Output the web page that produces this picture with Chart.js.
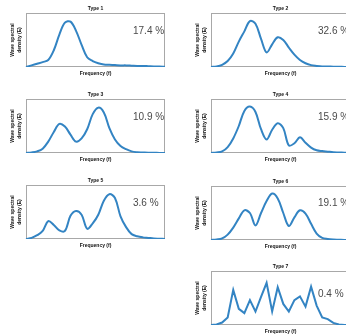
<!DOCTYPE html>
<html><head><meta charset="utf-8">
<script src="https://cdn.jsdelivr.net/npm/chart.js@4/dist/chart.umd.min.js"></script>
<style>
html,body{margin:0;padding:0;background:#fff;overflow:hidden;width:346px;height:336px;position:relative}
.p{position:absolute;width:175px;height:85px}
canvas{display:block}
</style></head><body>
<div class="p" style="left:0;top:0"><canvas id="c1" width="175" height="85"></canvas></div>
<div class="p" style="left:185px;top:0"><canvas id="c2" width="175" height="85"></canvas></div>
<div class="p" style="left:0;top:86px"><canvas id="c3" width="175" height="85"></canvas></div>
<div class="p" style="left:185px;top:86px"><canvas id="c4" width="175" height="85"></canvas></div>
<div class="p" style="left:0;top:172px"><canvas id="c5" width="175" height="85"></canvas></div>
<div class="p" style="left:185px;top:173px"><canvas id="c6" width="175" height="85"></canvas></div>
<div class="p" style="left:185px;top:258px"><canvas id="c7" width="175" height="85"></canvas></div>
<script>
const frequency = ['0','1','2','3','4','5','6','7','8','9','10','11','12','13','14','15','16','17','18','19','20','21','22','23','24','25'];
const typeNames = ['Type 1','Type 2','Type 3','Type 4','Type 5','Type 6','Type 7'];
const shares = [17.4, 32.6, 10.9, 15.9, 3.6, 19.1, 0.4];
const type1 = [0,0.03,0.06,0.09,0.13,0.31,0.60,0.82,0.84,0.67,0.41,0.18,0.11,0.07,0.045,0.04,0.035,0.03,0.03,0.025,0.02,0.02,0.015,0.01,0.01,0.005];
const type2 = [0,0.01,0.04,0.11,0.25,0.47,0.66,0.85,0.80,0.52,0.27,0.42,0.55,0.50,0.36,0.23,0.13,0.07,0.035,0.02,0.01,0.01,0.005,0.005,0,0];
const type3 = [0,0.01,0.03,0.08,0.21,0.39,0.54,0.49,0.34,0.21,0.27,0.44,0.72,0.84,0.75,0.46,0.25,0.13,0.07,0.03,0.015,0.01,0.005,0.005,0,0];
const type4 = [0,0.01,0.03,0.11,0.27,0.50,0.78,0.86,0.76,0.44,0.25,0.43,0.55,0.46,0.14,0.18,0.29,0.19,0.10,0.05,0.035,0.025,0.015,0.01,0.005,0];
const type5 = [0,0.02,0.07,0.15,0.33,0.26,0.16,0.15,0.43,0.52,0.45,0.19,0.29,0.45,0.71,0.83,0.76,0.42,0.22,0.09,0.05,0.03,0.02,0.01,0.005,0];
const type6 = [0,0.01,0.03,0.10,0.23,0.40,0.55,0.50,0.27,0.50,0.72,0.86,0.77,0.50,0.26,0.42,0.55,0.49,0.30,0.12,0.04,0.02,0.01,0.005,0,0];
const type7 = [0,0.01,0.045,0.14,0.65,0.30,0.22,0.46,0.25,0.52,0.78,0.25,0.70,0.39,0.25,0.46,0.53,0.34,0.71,0.36,0.14,0.11,0.04,0.01,0,0];

const series = [type1,type2,type3,type4,type5,type6,type7];
const panels = [
  {id:'c1', tension:0.35, labelY:18},
  {id:'c2', tension:0.35, labelY:18},
  {id:'c3', tension:0.35, labelY:18},
  {id:'c4', tension:0.35, labelY:18},
  {id:'c5', tension:0.35, labelY:18},
  {id:'c6', tension:0.35, labelY:17},
  {id:'c7', tension:0, labelY:23}
];
const FONT = "'Liberation Sans', Arial, sans-serif";

const boxPlugin = {
  id: 'boxPlugin',
  beforeDatasetsDraw(chart) {
    const a = chart.chartArea, ctx = chart.ctx;
    ctx.save();
    ctx.strokeStyle = '#a8a8a8';
    ctx.lineWidth = 1;
    ctx.strokeRect(Math.round(a.left)+0.5, Math.round(a.top)+0.5, Math.round(a.right-a.left)-1, Math.round(a.bottom-a.top)-1);
    ctx.restore();
  },
  afterDraw(chart, args, opts) {
    const a = chart.chartArea, ctx = chart.ctx;
    ctx.save();
    ctx.fillStyle = '#4a4a4a';
    ctx.font = '10px ' + FONT;
    ctx.textBaseline = 'middle';
    ctx.textAlign = 'left';
    ctx.fillText(opts.text, a.left + 107, a.top + opts.dy);
    ctx.restore();
  }
};

panels.forEach((p, k) => {
  new Chart(document.getElementById(p.id), {
    type: 'line',
    data: {
      labels: frequency,
      datasets: [{
        data: series[k],
        borderColor: '#3384c3',
        borderWidth: 2,
        pointRadius: 0,
        tension: p.tension,
        fill: false
      }]
    },
    options: {
      responsive: false,
      animation: false,
      devicePixelRatio: 1,
      layout: { autoPadding: false, padding: { left: 0, right: 10, top: 0, bottom: 7 } },
      plugins: {
        legend: { display: false },
        tooltip: { enabled: false },
        title: {
          display: true, text: typeNames[k], fullSize: false, color: '#111',
          font: { size: 5, weight: 'bold', family: FONT, lineHeight: 1.2 },
          padding: { top: 6, bottom: 1 }
        },
        boxPlugin: { text: shares[k].toFixed(1) + ' %', dy: p.labelY }
      },
      scales: {
        x: {
          grid: { display: false, drawTicks: false, tickLength: 0 }, border: { display: false },
          ticks: { display: false, padding: 0 },
          title: { display: true, text: 'Frequency (f)', color: '#111',
            font: { size: 5, weight: 'bold', family: FONT, lineHeight: 1.2 },
            padding: { top: 4, bottom: 1 } }
        },
        y: {
          min: 0, max: 1,
          grid: { display: false, drawTicks: false, tickLength: 0 }, border: { display: false },
          ticks: { display: false, padding: 0 },
          title: { display: true, text: ['Wave spectral','density (E)'], color: '#111',
            font: { size: 5, weight: 'bold', family: FONT, lineHeight: 1.4 },
            padding: { top: 9.5, bottom: 2.5 } }
        }
      }
    },
    plugins: [boxPlugin]
  });
});
</script>
</body></html>
